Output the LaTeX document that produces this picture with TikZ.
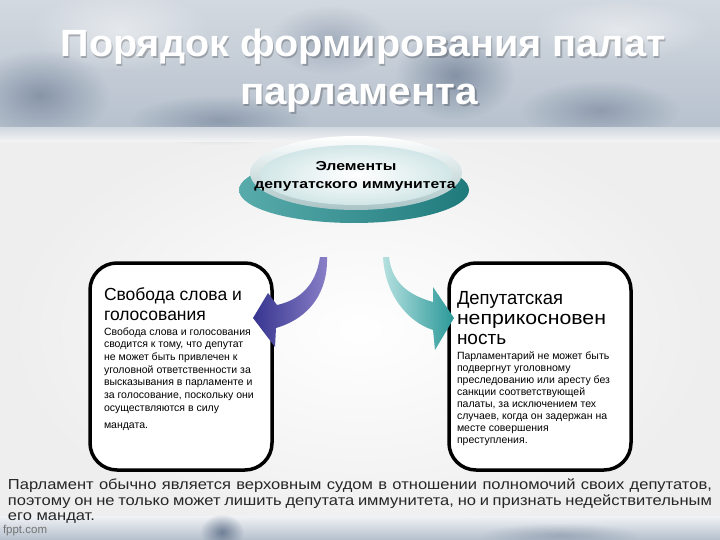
\documentclass[tikz,border=0pt]{standalone}
\usepackage{fontspec}
\setmainfont{Liberation Sans}
\usetikzlibrary{fadings}
\tikzfading[name=fuzzy, inner color=transparent!0, outer color=transparent!100]
\definecolor{bgmid}{HTML}{EEEEEE}
\definecolor{bantop}{HTML}{D3D9E0}
\definecolor{banbot}{HTML}{B4BFCC}
\definecolor{blob}{HTML}{5A6C86}
\definecolor{tealc}{HTML}{2F9696}
\definecolor{tealdk}{HTML}{1F7A7C}
\definecolor{rim}{HTML}{A9C4C6}
\definecolor{discin}{HTML}{D2E6E7}
\definecolor{purdk}{HTML}{36358F}
\definecolor{purlt}{HTML}{8A80C8}
\definecolor{tealt}{HTML}{B5E0E0}
\definecolor{tealar}{HTML}{2A9898}
\begin{document}
\begin{tikzpicture}[x=1pt,y=-1pt,
  every node/.style={inner sep=0pt, outer sep=0pt},
  boxstyle/.style={draw=black, line width=3.5pt, rounded corners=27pt, fill=white},
  titlefont/.style={font=\bfseries\fontsize{38}{44}\selectfont, text=white, anchor=base},
  headL/.style={font=\fontsize{17.5}{21}\selectfont, anchor=base west},
  headR/.style={font=\fontsize{19}{22}\selectfont, anchor=base west},
  smalltext/.style={font=\fontsize{10.5}{12}\selectfont, anchor=base west},
  bottomtext/.style={font=\fontsize{14.5}{18}\selectfont, anchor=base west, text=black!85},
]
\useasboundingbox (0,0) rectangle (720,540);
% ---- background
\fill[bgmid] (0,0) rectangle (720,540);
\fill[white, path fading=fuzzy] (360,330) ellipse (360pt and 220pt);
% banner
\shade[top color=bantop, bottom color=banbot] (0,0) rectangle (720,140);
\fill[blob, opacity=.55, path fading=fuzzy] (40,95) ellipse (70pt and 45pt);
\fill[blob, opacity=.6, path fading=fuzzy] (455,75) ellipse (60pt and 45pt);
\fill[blob, opacity=.45, path fading=fuzzy] (220,120) ellipse (90pt and 25pt);
\fill[blob, opacity=.45, path fading=fuzzy] (600,110) ellipse (80pt and 30pt);
\fill[blob, opacity=.35, path fading=fuzzy] (330,40) ellipse (60pt and 35pt);
\fill[white, opacity=.5, path fading=fuzzy] (120,30) ellipse (90pt and 40pt);
\fill[white, opacity=.5, path fading=fuzzy] (620,30) ellipse (90pt and 30pt);
\shade[top color=banbot!60!white, bottom color=white!92!gray] (0,128) rectangle (720,142);
% bottom band
\shade[top color=white!80!banbot, bottom color=banbot] (0,516) rectangle (720,540);
\fill[blob, opacity=.8, path fading=fuzzy] (222,532) ellipse (22pt and 18pt);
\fill[blob, opacity=.35, path fading=fuzzy] (560,535) ellipse (80pt and 12pt);
% ---- title
\node[titlefont, text=black, opacity=.22] at (364.5,58.5) {\resizebox{605pt}{\height}{Порядок формирования палат}};
\node[titlefont] (t1) at (363,57) {\resizebox{605pt}{\height}{Порядок формирования палат}};
\node[titlefont, text=black, opacity=.22] at (360.5,106.5) {\resizebox{238pt}{\height}{парламента}};
\node[titlefont] (t2) at (359,105) {\resizebox{238pt}{\height}{парламента}};
% ---- disc
\shade[left color=tealc!80!white, right color=tealdk] (354,190) ellipse (115pt and 33pt);
\shade[top color=white, bottom color=rim] (356,173) ellipse (106pt and 37pt);
\shade[inner color=white, outer color=discin] (356,175) ellipse (96pt and 30pt);
\node[anchor=base, font=\bfseries\fontsize{13}{15}\selectfont] (e1) at (356,171) {\resizebox{81pt}{\height}{Элементы}};
\node[anchor=base, font=\bfseries\fontsize{13}{15}\selectfont] (e2) at (355,189) {\resizebox{201pt}{\height}{депутатского иммунитета}};
% ---- boxes
\draw[boxstyle] (90,263) rectangle (272,470);
\draw[boxstyle] (449,263) rectangle (631,470);
% ---- arrows
\shade[left color=purdk, right color=purlt]
  (320,257) .. controls (316,285) and (300,300) .. (277,305) -- (268,293) -- (253,318)
  -- (275,347) -- (276,328) .. controls (310,318) and (328,292) .. (327,257) -- cycle;
\shade[left color=tealt, right color=tealar]
  (383,257) .. controls (385,295) and (408,322) .. (433,330) -- (435,350) -- (454,318)
  -- (433,287) -- (433,302) .. controls (412,296) and (392,285) .. (389,257) -- cycle;
% ---- left box text
\node[headL] (lh1) at (104,300) {Свобода слова и};
\node[headL] (lh2) at (104,320) {голосования};
\foreach \t [count=\i from 0] in {{Свобода слова и голосования},{сводится к тому, что депутат},{не может быть привлечен к},{уголовной ответственности за},{высказывания в парламенте и},{за голосование, поскольку они},{осуществляются в силу}}
  \node[smalltext] (ls\i) at (104,{335+12.7*\i}) {\t};
\node[smalltext] (ls7) at (104,428) {мандата.};
% ---- right box text
\node[headR] (rh1) at (457,304) {\resizebox{106pt}{\height}{Депутатская}};
\node[headR] (rh2) at (457,324) {\resizebox{149pt}{\height}{неприкосновен}};
\node[headR] (rh3) at (457,344) {ность};
\foreach \t [count=\i from 0] in {{Парламентарий не может быть},{подвергнут уголовному},{преследованию или аресту без},{санкции соответствующей},{палаты, за исключением тех},{случаев, когда он задержан на},{месте совершения},{преступления.}}
  \node[smalltext] (rs\i) at (457,{359+12*\i}) {\t};
% ---- bottom paragraph
\node[bottomtext] (b1) at (8,489) {\scalebox{1.139}[1]{\makebox[618pt][s]{Парламент обычно является верховным судом в отношении полномочий своих депутатов,}}};
\node[bottomtext] (b2) at (8,505) {\scalebox{1.139}[1]{\makebox[618pt][s]{поэтому он не только может лишить депутата иммунитета, но и признать недействительным}}};
\node[bottomtext] (b3) at (8,520) {\scalebox{1.139}[1]{его мандат.}};
\node[anchor=base west, font=\fontsize{11.5}{13}\selectfont, text=black!55] (fp) at (3,533) {fppt.com};
\end{tikzpicture}
\end{document}
